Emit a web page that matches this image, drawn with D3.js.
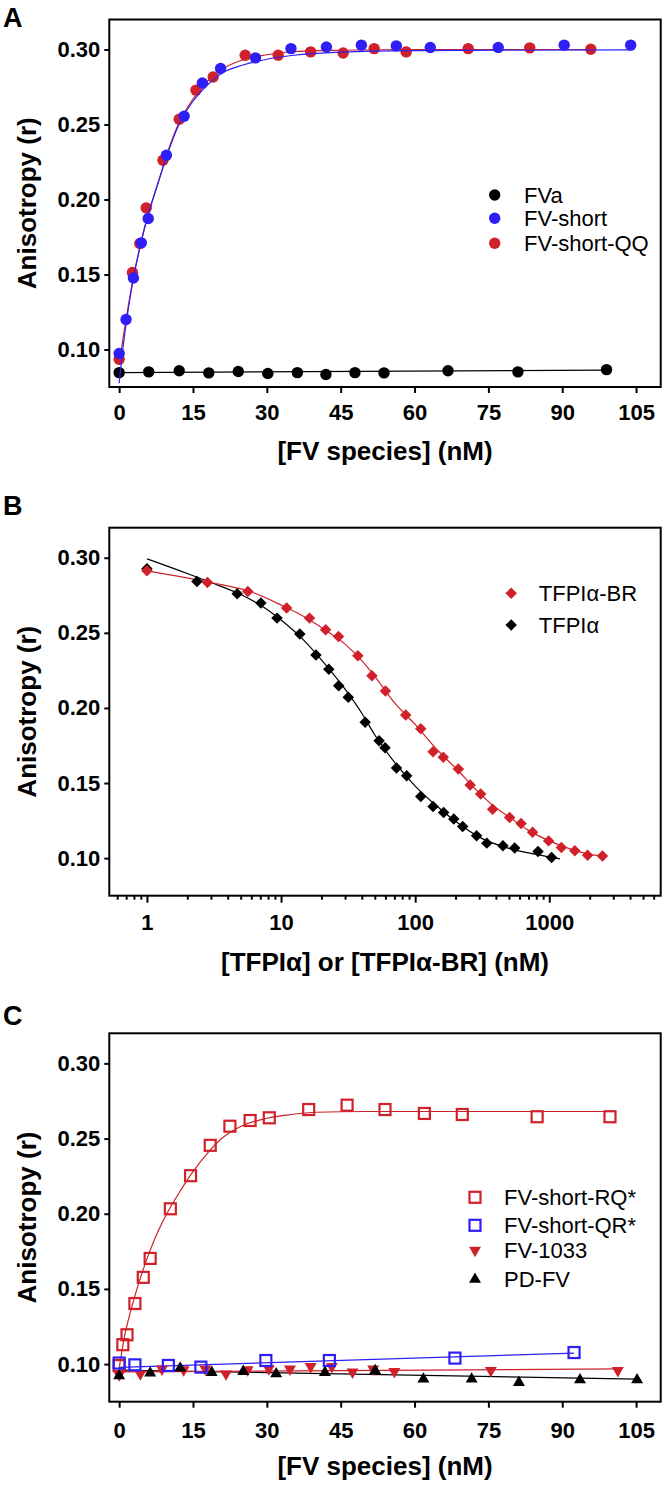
<!DOCTYPE html>
<html>
<head>
<meta charset="utf-8">
<title>Anisotropy binding curves</title>
<style>
  body { margin: 0; background: #fff; }
  text { font-family: "Liberation Sans", Arial, Helvetica, sans-serif; }
</style>
<script src="https://d3js.org/d3.v7.min.js"></script>
</head>
<body>
<script>
// ---- shared ticks ----
var yTicks = [0.10, 0.15, 0.20, 0.25, 0.30];
var linTicks = [0, 15, 30, 45, 60, 75, 90, 105];
var logMajor = [1, 10, 100, 1000];

// ---- panel A : FV species titration ----
var aFVaX = [0, 6, 12.2, 18.2, 24.2, 30.2, 36.2, 42, 47.9, 53.8, 66.8, 81, 99];
var aFVaY = [0.0846, 0.0851, 0.0858, 0.0844, 0.0853, 0.0840, 0.0846, 0.0833, 0.0846, 0.0844, 0.0858, 0.0851, 0.0866];
var aShortX = [0, 1.4, 2.9, 4.5, 5.9, 9.6, 13.2, 16.9, 20.6, 27.7, 34.9, 42.1, 49.2, 56.3, 63.2, 77.0, 90.4, 103.9];
var aShortY = [0.0973, 0.120, 0.1477, 0.1711, 0.1873, 0.2295, 0.2555, 0.2777, 0.2873, 0.2944, 0.3006, 0.3017, 0.3029, 0.3024, 0.3013, 0.3013, 0.3029, 0.3029];
var aQQX = [0, 2.7, 4.2, 5.5, 8.9, 12.2, 15.6, 19.1, 25.6, 32.3, 38.9, 45.5, 51.8, 58.3, 70.9, 83.4, 95.8];
var aQQY = [0.0935, 0.1513, 0.1707, 0.1944, 0.2262, 0.2535, 0.2729, 0.2817, 0.2962, 0.2962, 0.2984, 0.2977, 0.3006, 0.2984, 0.3006, 0.3011, 0.3002];
// fitted curves
var aFVaFitX = [0, 99];
var aFVaFitY = [0.0846, 0.0862];
var aShortFitX = [0, 1, 2, 3, 4, 5, 6, 8, 10, 12, 15, 18, 21, 25, 30, 35, 45, 60, 104];
var aShortFitY = [0.0775, 0.107, 0.130, 0.149, 0.165, 0.179, 0.191, 0.212, 0.232, 0.249, 0.2655, 0.2765, 0.2845, 0.2895, 0.2935, 0.296, 0.2982, 0.2993, 0.2998];
var aQQFitX = [0, 1, 2, 3, 4, 5, 6, 8, 10, 12, 15, 18, 21, 25, 30, 35, 45, 60, 96];
var aQQFitY = [0.090, 0.112, 0.132, 0.150, 0.165, 0.179, 0.191, 0.212, 0.233, 0.250, 0.267, 0.279, 0.287, 0.293, 0.2965, 0.2985, 0.2995, 0.300, 0.300];

// ---- panel B : TFPI competition (log x) ----
var bBRX = [1.0, 2.83, 5.65, 11.0, 16.3, 21.5, 26.8, 37.4, 47.6, 60, 85, 110, 136, 162, 210, 257, 308, 378, 506, 616, 750, 989, 1230, 1550, 1930, 2490];
var bBRY = [0.2913, 0.2835, 0.2775, 0.2665, 0.2598, 0.2520, 0.2475, 0.2347, 0.2215, 0.2113, 0.1953, 0.1862, 0.1709, 0.1671, 0.1593, 0.1487, 0.1427, 0.1325, 0.1271, 0.1231, 0.1173, 0.1115, 0.1071, 0.1049, 0.1020, 0.1015];
var bAlphaX = [1.0, 2.36, 4.71, 7.07, 9.33, 13.8, 18.2, 22.7, 26.9, 31.7, 42.4, 53.8, 59.6, 72.6, 86.4, 110, 136, 163, 194, 226, 287, 342, 451, 552, 824, 1040];
var bAlphaY = [0.2927, 0.2842, 0.2760, 0.2698, 0.2598, 0.2493, 0.2353, 0.2258, 0.2147, 0.2071, 0.1904, 0.1782, 0.1735, 0.1600, 0.1549, 0.1411, 0.1344, 0.1304, 0.1260, 0.1211, 0.1149, 0.1100, 0.1082, 0.1067, 0.1045, 0.1005];
var bBRFitX = [1, 3, 6, 10, 15, 20, 30, 40, 50, 70, 100, 150, 200, 300, 400, 500, 700, 1000, 1500, 2000, 2500];
var bBRFitY = [0.2913, 0.2835, 0.2772, 0.2685, 0.2605, 0.2535, 0.2425, 0.2315, 0.2210, 0.2035, 0.1890, 0.1710, 0.1600, 0.1435, 0.1335, 0.1275, 0.1185, 0.1115, 0.1055, 0.1025, 0.1015];
var bAlphaFitX = [1, 2, 3, 5, 7, 10, 15, 20, 30, 40, 50, 70, 100, 150, 200, 300, 500, 700, 1000, 1200];
var bAlphaFitY = [0.2993, 0.2895, 0.2835, 0.2755, 0.2685, 0.2585, 0.2445, 0.2320, 0.2125, 0.1965, 0.1820, 0.1640, 0.1480, 0.1335, 0.1245, 0.1140, 0.1065, 0.1035, 0.1008, 0.0995];

// ---- panel C : mutant FV species ----
var cRQX = [0, 0.75, 1.6, 3.2, 4.9, 6.3, 10.4, 14.5, 18.5, 22.5, 26.6, 30.5, 38.5, 46.3, 54.0, 62.0, 69.7, 84.9, 99.7];
var cRQY = [0.0990, 0.1129, 0.1195, 0.1403, 0.1577, 0.1703, 0.2033, 0.2253, 0.2455, 0.2582, 0.2620, 0.2638, 0.2693, 0.2722, 0.2693, 0.2667, 0.2660, 0.2645, 0.2645];
var cQRX = [0, 3.2, 10.0, 16.6, 29.8, 42.7, 68.2, 92.4];
var cQRY = [0.1007, 0.0995, 0.0991, 0.0980, 0.1024, 0.1024, 0.1040, 0.1077];
var c1033X = [0, 4.3, 8.7, 13.1, 17.5, 21.7, 26.1, 30.4, 34.7, 38.9, 43.2, 47.4, 51.6, 55.9, 75.5, 101.3];
var c1033Y = [0.0929, 0.0935, 0.0967, 0.0962, 0.0967, 0.0935, 0.0962, 0.0969, 0.0967, 0.0984, 0.0984, 0.0947, 0.0967, 0.0951, 0.0957, 0.0957];
var cPDX = [0, 6.3, 12.4, 18.8, 25.2, 31.9, 41.8, 52.0, 61.8, 71.6, 81.2, 93.6, 105.2];
var cPDY = [0.0922, 0.0940, 0.0973, 0.0944, 0.0951, 0.0935, 0.0944, 0.0957, 0.0900, 0.0900, 0.0878, 0.0895, 0.0895];
var cRQFitX = [0, 1, 2, 3, 4, 5, 6, 8, 10, 12, 15, 18, 21, 25, 30, 35, 40, 50, 100];
var cRQFitY = [0.097, 0.117, 0.131, 0.143, 0.154, 0.164, 0.173, 0.189, 0.202, 0.213, 0.228, 0.2405, 0.2505, 0.2585, 0.2635, 0.266, 0.2675, 0.268, 0.268];
var cQRFitX = [0, 92.4];
var cQRFitY = [0.0978, 0.1073];
var c1033FitX = [0, 101.3];
var c1033FitY = [0.0948, 0.0968];
var cPDFitX = [0, 105.2];
var cPDFitY = [0.0960, 0.0900];

var RED = "#d0202a", BLUE = "#2d1ff5", BLACK = "#000";

var svg = d3.select("body").append("svg")
    .attr("width", 664)
    .attr("height", 1487);

var left = 109.3, right = 660.7;
var yDomain = [0.075, 0.32];

function marker(sel, type, color) {
  if (type === "circle") {
    sel.append("circle").attr("r", 5.7).attr("fill", color);
  } else if (type === "square") {
    sel.append("rect").attr("x", -5.5).attr("y", -5.5).attr("width", 11).attr("height", 11)
      .attr("fill", "none").attr("stroke", color).attr("stroke-width", 2.2);
  } else if (type === "diamond") {
    sel.append("path").attr("d", d3.symbol(d3.symbolSquare, 66)).attr("transform", "rotate(45)").attr("fill", color);
  } else if (type === "triUp") {
    sel.append("path").attr("d", d3.symbol(d3.symbolTriangle, 62)).attr("fill", color);
  } else if (type === "triDown") {
    sel.append("path").attr("d", d3.symbol(d3.symbolTriangle, 62)).attr("transform", "rotate(180)").attr("fill", color);
  }
}

function points(g, x, y, xs, ys, type, color) {
  g.append("g").selectAll("g")
    .data(d3.zip(xs, ys))
    .join("g")
    .attr("transform", function(d) { return "translate(" + x(d[0]) + "," + y(d[1]) + ")"; })
    .each(function() { marker(d3.select(this), type, color); });
}

function fit(g, x, y, xs, ys, color) {
  var line = d3.line()
    .x(function(d) { return x(d[0]); })
    .y(function(d) { return y(d[1]); })
    .curve(d3.curveMonotoneX);
  g.append("path").datum(d3.zip(xs, ys))
    .attr("d", line).attr("fill", "none").attr("stroke", color).attr("stroke-width", 1.2);
}

function styleAxis(ax) {
  ax.attr("font-family", null).attr("font-size", 22).attr("font-weight", "bold");
  ax.select(".domain").remove();
  ax.selectAll("line").attr("stroke", "#000").attr("stroke-width", 2);
  ax.selectAll("text").attr("fill", "#000");
}

function panel(top, bottom, x, letter, letterY, xTitle, titleY, labelOff, legendItems, legX, legTextX, legYs) {
  var y = d3.scaleLinear().domain(yDomain).range([bottom, top]);
  var g = svg.append("g");

  var ya = g.append("g").attr("transform", "translate(" + left + ",0)")
    .call(d3.axisLeft(y).tickValues(yTicks).tickFormat(d3.format(".2f")).tickSize(5).tickPadding(4));
  styleAxis(ya);

  g.append("text").attr("x", 3).attr("y", letterY)
    .attr("font-size", 27).attr("font-weight", "bold").text(letter);

  g.append("text")
    .attr("transform", "translate(36," + ((top + bottom) / 2) + ") rotate(-90)")
    .attr("text-anchor", "middle").attr("font-size", 26).attr("font-weight", "bold")
    .text("Anisotropy (r)");

  g.append("text").attr("x", (left + right) / 2).attr("y", titleY)
    .attr("text-anchor", "middle").attr("font-size", 26).attr("font-weight", "bold")
    .text(xTitle);

  // legend
  legendItems.forEach(function(it, i) {
    var m = g.append("g").attr("transform", "translate(" + legX + "," + legYs[i] + ")");
    marker(m, it.type, it.color);
    g.append("text").attr("x", legTextX).attr("y", legYs[i]).attr("dy", "0.36em")
      .attr("font-size", 22).text(it.label);
  });

  return { g: g, y: y };
}

function frame(g, top, bottom) {
  g.append("rect").attr("x", left).attr("y", top).attr("width", right - left).attr("height", bottom - top)
    .attr("fill", "none").attr("stroke", "#000").attr("stroke-width", 2);
}

function linXAxis(g, x, bottom, labelOff) {
  var xa = g.append("g").attr("transform", "translate(0," + bottom + ")")
    .call(d3.axisBottom(x).tickValues(linTicks).tickSize(6));
  styleAxis(xa);
  xa.selectAll("text").attr("y", labelOff).attr("dy", "0.36em");
}

// ---------- Panel A ----------
var xA = d3.scaleLinear().domain([-2, 110]).range([left, right]);
var pA = panel(19.5, 387, xA, "A", 26.7, "[FV species] (nM)", 460, 24.7,
  [{ type: "circle", color: BLACK, label: "FVa" },
   { type: "circle", color: BLUE, label: "FV-short" },
   { type: "circle", color: RED, label: "FV-short-QQ" }],
  494.7, 524, [195, 218.3, 243.3]);
linXAxis(pA.g, xA, 387, 24.7);
fit(pA.g, xA, pA.y, aFVaFitX, aFVaFitY, BLACK);
points(pA.g, xA, pA.y, aFVaX, aFVaY, "circle", BLACK);
fit(pA.g, xA, pA.y, aQQFitX, aQQFitY, RED);
points(pA.g, xA, pA.y, aQQX, aQQY, "circle", RED);
fit(pA.g, xA, pA.y, aShortFitX, aShortFitY, BLUE);
points(pA.g, xA, pA.y, aShortX, aShortY, "circle", BLUE);
frame(pA.g, 19.5, 387);

// ---------- Panel B ----------
var xB = d3.scaleLog().domain([0.524, 6770]).range([left, right]);
var pB = panel(527.7, 895.7, xB, "B", 515, "[TFPI\u03b1] or [TFPI\u03b1-BR] (nM)", 971, 26,
  [{ type: "diamond", color: RED, label: "TFPI\u03b1-BR" },
   { type: "diamond", color: BLACK, label: "TFPI\u03b1" }],
  511.2, 538.8, [593.3, 625]);
var minor = xB.ticks().filter(function(v) { return logMajor.indexOf(v) < 0; });
var xbMinor = pB.g.append("g").attr("transform", "translate(0,895.7)")
  .call(d3.axisBottom(xB).tickValues(minor).tickSize(4).tickFormat(""));
styleAxis(xbMinor);
var xbMajor = pB.g.append("g").attr("transform", "translate(0,895.7)")
  .call(d3.axisBottom(xB).tickValues(logMajor).tickSize(7).tickFormat(d3.format("d")));
styleAxis(xbMajor);
xbMajor.selectAll("text").attr("y", 26).attr("dy", "0.36em");
fit(pB.g, xB, pB.y, bAlphaFitX, bAlphaFitY, BLACK);
fit(pB.g, xB, pB.y, bBRFitX, bBRFitY, RED);
points(pB.g, xB, pB.y, bAlphaX, bAlphaY, "diamond", BLACK);
points(pB.g, xB, pB.y, bBRX, bBRY, "diamond", RED);
frame(pB.g, 527.7, 895.7);

// ---------- Panel C ----------
var xC = d3.scaleLinear().domain([-2, 110]).range([left, right]);
var pC = panel(1033.3, 1401.7, xC, "C", 1025, "[FV species] (nM)", 1475, 28.3,
  [{ type: "square", color: RED, label: "FV-short-RQ*" },
   { type: "square", color: BLUE, label: "FV-short-QR*" },
   { type: "triDown", color: RED, label: "FV-1033" },
   { type: "triUp", color: BLACK, label: "PD-FV" }],
  475, 504, [1197.3, 1225.3, 1250.3, 1279.3]);
linXAxis(pC.g, xC, 1401.7, 28.3);
fit(pC.g, xC, pC.y, cPDFitX, cPDFitY, BLACK);
fit(pC.g, xC, pC.y, c1033FitX, c1033FitY, RED);
fit(pC.g, xC, pC.y, cQRFitX, cQRFitY, BLUE);
fit(pC.g, xC, pC.y, cRQFitX, cRQFitY, RED);
points(pC.g, xC, pC.y, cRQX, cRQY, "square", RED);
points(pC.g, xC, pC.y, c1033X, c1033Y, "triDown", RED);
points(pC.g, xC, pC.y, cPDX, cPDY, "triUp", BLACK);
points(pC.g, xC, pC.y, cQRX, cQRY, "square", BLUE);
frame(pC.g, 1033.3, 1401.7);
</script>
</body>
</html>
